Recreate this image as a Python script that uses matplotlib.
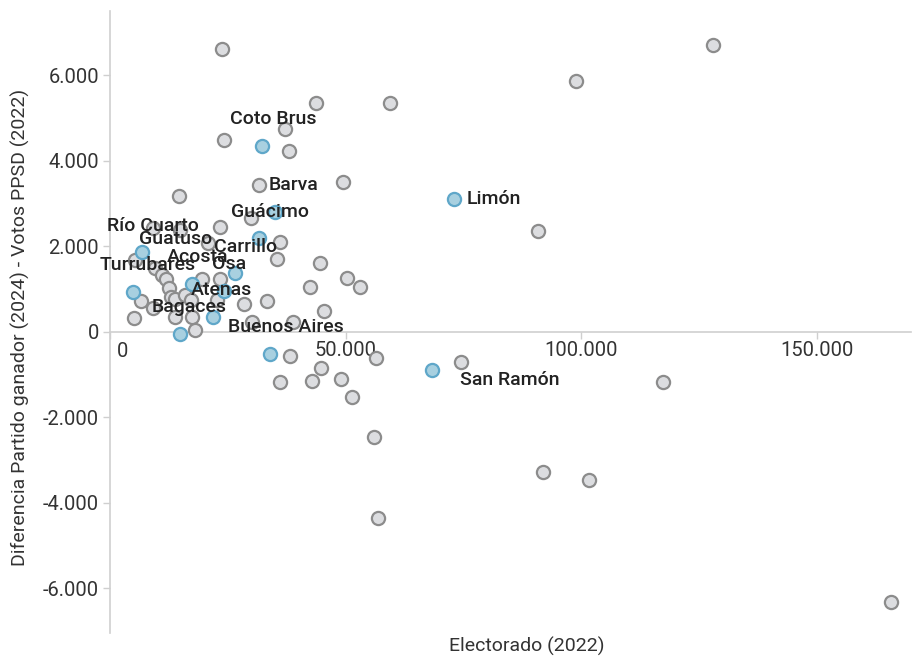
import matplotlib
matplotlib.use("Agg")
import matplotlib.pyplot as plt
from matplotlib.ticker import FuncFormatter
import matplotlib.transforms as mtransforms

plt.rcParams['font.family'] = ['Roboto', 'DejaVu Sans']

# ---- data (Electorado 2022, Diferencia votos) ----
gray_x = [127900, 98800, 23800, 59400, 43800, 37200, 24300, 38000, 49500, 31700,
          14700, 30000, 23400, 90800, 9200, 14900, 20900, 36100, 5400, 35500,
          44600, 50300, 53100, 42500, 45400, 33400, 28500, 30200, 38900, 38200,
          36100, 44800, 42900, 49000, 51400, 56500, 56000, 56900, 74500, 91800,
          101600, 117300, 165800, 9600, 11100, 11800, 12600, 19600, 23400, 6500,
          9200, 13000, 13900, 16000, 17100, 22800, 5000, 13900, 17500, 18100]
gray_y = [6700, 5860, 6610, 5350, 5350, 4740, 4480, 4220, 3500, 3430,
          3170, 2650, 2440, 2350, 2420, 2370, 2070, 2090, 1670, 1700,
          1600, 1250, 1040, 1040, 480, 710, 640, 220, 220, -570,
          -1180, -850, -1160, -1110, -1530, -620, -2470, -4360, -710, -3290,
          -3470, -1180, -6330, 1490, 1320, 1230, 1020, 1230, 1230, 710,
          550, 810, 760, 850, 740, 740, 320, 340, 340, 40]

blue_x = [32300, 73000, 68300, 35100, 31700, 6700, 26600, 17500, 24300, 4800,
          21900, 14900, 34000]
blue_y = [4340, 3100, -900, 2800, 2190, 1860, 1370, 1110, 950, 920,
          340, -60, -530]

label_names = ['Coto Brus', 'Barva', 'Guácimo', 'Limón', 'Río Cuarto', 'Guatuso',
               'Carrillo', 'Acosta', 'Osa', 'Turrubares', 'Atenas', 'Bagaces',
               'Buenos Aires', 'San Ramón']
label_x = [34700, 39000, 34000, 81400, 9200, 13900, 28700, 18500, 25200, 8100,
           23600, 16800, 37400, 84900]
label_y = [4970, 3430, 2800, 3100, 2470, 2160, 1980, 1740, 1580, 1560,
           970, 570, 110, -1130]

x_ticks = [0, 50000, 100000, 150000]
y_ticks = [-6000, -4000, -2000, 0, 2000, 4000, 6000]
x_title = 'Electorado (2022)'
y_title = 'Diferencia Partido ganador (2024) - Votos PPSD (2022)'

# ---- figure ----
W, H = 920, 656
fig = plt.figure(figsize=(W / 100, H / 100), dpi=100)
ax = fig.add_axes([110 / W, 1 - 633 / H, (911 - 110) / W, (633 - 11) / H])
ax.set_xlim(0, 170000)
ax.set_ylim(-7050, 7500)

axis_col = '#cfcfcf'
text_col = '#333333'

for s in ['top', 'right']:
    ax.spines[s].set_visible(False)
ax.spines['bottom'].set_position(('data', 0))
ax.spines['left'].set_color(axis_col)
ax.spines['bottom'].set_color(axis_col)
ax.spines['left'].set_linewidth(1.2)
ax.spines['bottom'].set_linewidth(1.2)


def fmt(v, pos=None):
    s = f"{int(round(v)):,}".replace(',', '.')
    return s


ax.set_xticks(x_ticks)
ax.set_yticks(y_ticks)
ax.xaxis.set_major_formatter(FuncFormatter(lambda v, p: '' if v == 0 else fmt(v)))
ax.yaxis.set_major_formatter(FuncFormatter(fmt))
ax.tick_params(axis='both', colors=axis_col, labelcolor=text_col, labelsize=14.5,
               length=5, width=1)
ax.tick_params(axis='y', pad=3)
ax.tick_params(axis='x', pad=2)

# flush "0" label on x axis
off = mtransforms.offset_copy(ax.transData, fig=fig, x=5, y=-7.5, units='points')
ax.text(0, 0, '0', transform=off, ha='left', va='top', fontsize=14.5, color=text_col)

# points
ax.scatter(gray_x, gray_y, s=90, facecolor='#dcdde0', edgecolor='#8c8c8c',
           linewidth=1.6, zorder=3, clip_on=False)
ax.scatter(blue_x, blue_y, s=90, facecolor='#a8d0e0', edgecolor='#5fa7c9',
           linewidth=1.6, zorder=4, clip_on=False)

for n, lx, ly in zip(label_names, label_x, label_y):
    ax.text(lx, ly, n, ha='center', va='center', fontsize=14, fontweight=500,
            color='#222222', zorder=5)

fig.text(527 / W, 1 - 646 / H, x_title, ha='center', va='center', fontsize=14,
         color=text_col)
fig.text(20 / W, 1 - 327 / H, y_title, ha='center', va='center', fontsize=14,
         color=text_col, rotation=90)

fig.savefig('out.png', dpi=100)
